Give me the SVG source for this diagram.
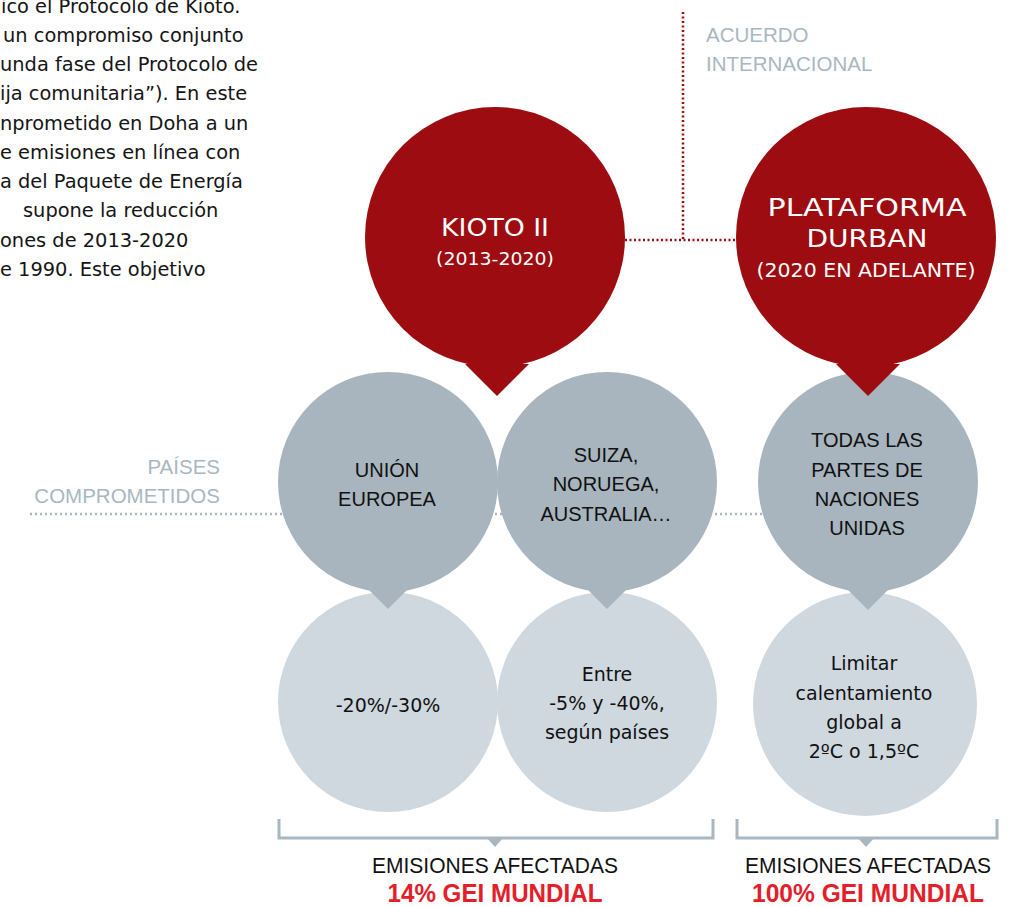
<svg xmlns="http://www.w3.org/2000/svg" width="1016" height="907" viewBox="0 0 1016 907">
<style>
.red{fill:#9c0c11}
.grey{fill:#a8b5be}
.light{fill:#cfd8df}
.para{font-family:"DejaVu Sans","Liberation Sans",sans-serif;font-size:19.4px;fill:#151515}
.din{font-family:"DejaVu Sans","Liberation Sans",sans-serif;font-size:19px;fill:#111;text-anchor:middle}
.helv{font-family:"Liberation Sans",Arial,sans-serif;font-size:20px;fill:#111;text-anchor:middle}
.geo{font-family:"DejaVu Sans","Liberation Sans",sans-serif;fill:#fff;text-anchor:middle}
.lbl{font-family:"Liberation Sans",Arial,sans-serif;font-size:20.5px;fill:#a9b7c1}
.emi{font-family:"Liberation Sans",Arial,sans-serif;font-size:22px;fill:#111;text-anchor:middle}
.gei{font-family:"Liberation Sans",Arial,sans-serif;font-size:25px;font-weight:bold;fill:#e3202a;text-anchor:middle}
.rdot{fill:none;stroke:#9c0c11;stroke-width:2.5;stroke-dasharray:2 2.5}
.gdot{fill:none;stroke:#a9b7c1;stroke-width:2.5;stroke-dasharray:2 3}
.brk{fill:none;stroke:#a9b7c1;stroke-width:3}
.brkt{fill:#a9b7c1}
</style>

<g id="paragraph">
<text class="para" x="1" y="13">ico el Protocolo de Kioto.</text>
<text class="para" x="3" y="42">un compromiso conjunto</text>
<text class="para" x="0" y="71">unda fase del Protocolo de</text>
<text class="para" x="0" y="100">ija comunitaria”). En este</text>
<text class="para" x="0" y="130">nprometido en Doha a un</text>
<text class="para" x="0" y="159">e emisiones en línea con</text>
<text class="para" x="0" y="188">a del Paquete de Energía</text>
<text class="para" x="23" y="217">supone la reducción</text>
<text class="para" x="0" y="247">ones de 2013-2020</text>
<text class="para" x="0" y="276">e 1990. Este objetivo</text>
</g>

<g id="labels">
<text class="lbl" x="706" y="42">ACUERDO</text>
<text class="lbl" x="706" y="71">INTERNACIONAL</text>
<text class="lbl" x="220" y="474" text-anchor="end">PAÍSES</text>
<text class="lbl" x="220" y="503" text-anchor="end">COMPROMETIDOS</text>
</g>

<g id="connectors">
<path class="rdot" d="M683,12 V240"/>
<path class="rdot" d="M625,240 H737"/>
<path class="gdot" d="M30,514 H762"/>
</g>

<g id="result-ue">
<circle class="light" cx="388" cy="702" r="110"/>
<text class="din" x="388" y="712">-20%/-30%</text>
</g>
<g id="result-suiza">
<circle class="light" cx="607" cy="702" r="110"/>
<text class="din" x="607" y="681">Entre</text>
<text class="din" x="607" y="710">-5% y -40%,</text>
<text class="din" x="607" y="739">según países</text>
</g>
<g id="result-todas">
<circle class="light" cx="865" cy="704" r="112"/>
<text class="din" x="864" y="670">Limitar</text>
<text class="din" x="864" y="700">calentamiento</text>
<text class="din" x="864" y="729">global a</text>
<text class="din" x="864" y="758">2ºC o 1,5ºC</text>
</g>

<g id="ue">
<circle class="grey" cx="388" cy="482" r="110"/>
<polygon class="grey" points="358,579 418,579 388,609"/>
<text class="helv" x="387" y="477">UNIÓN</text>
<text class="helv" x="387" y="506">EUROPEA</text>
</g>
<g id="suiza">
<circle class="grey" cx="607" cy="482" r="110"/>
<polygon class="grey" points="577,579 637,579 607,609"/>
<text class="helv" x="606" y="462">SUIZA,</text>
<text class="helv" x="606" y="491">NORUEGA,</text>
<text class="helv" x="606" y="521">AUSTRALIA…</text>
</g>
<g id="todas">
<circle class="grey" cx="868" cy="482" r="110"/>
<polygon class="grey" points="838,580 898,580 868,610"/>
<text class="helv" x="867" y="447">TODAS LAS</text>
<text class="helv" x="867" y="477">PARTES DE</text>
<text class="helv" x="867" y="506">NACIONES</text>
<text class="helv" x="867" y="535">UNIDAS</text>
</g>

<g id="kioto">
<circle class="red" cx="495" cy="237" r="130"/>
<polygon class="red" points="465,364 529,364 497,396"/>
<text class="geo" x="495" y="236" font-size="25" textLength="108" lengthAdjust="spacingAndGlyphs">KIOTO II</text>
<text class="geo" x="495" y="265" font-size="18" textLength="118" lengthAdjust="spacingAndGlyphs">(2013-2020)</text>
</g>
<g id="durban">
<circle class="red" cx="866" cy="237" r="130"/>
<polygon class="red" points="836,364 900,364 868,396"/>
<text class="geo" x="867" y="216" font-size="25" textLength="199" lengthAdjust="spacingAndGlyphs">PLATAFORMA</text>
<text class="geo" x="867" y="247" font-size="25" textLength="121" lengthAdjust="spacingAndGlyphs">DURBAN</text>
<text class="geo" x="866" y="277" font-size="19" textLength="219" lengthAdjust="spacingAndGlyphs">(2020 EN ADELANTE)</text>
</g>

<g id="emisiones-kioto">
<path class="brk" d="M279,819 V838 H713 V819"/>
<polygon class="brkt" points="486,837 504,837 495,847"/>
<text class="emi" x="495" y="873" textLength="246" lengthAdjust="spacingAndGlyphs">EMISIONES AFECTADAS</text>
<text class="gei" x="495" y="902" textLength="215" lengthAdjust="spacingAndGlyphs">14% GEI MUNDIAL</text>
</g>
<g id="emisiones-durban">
<path class="brk" d="M737,819 V838 H997 V819"/>
<polygon class="brkt" points="857,837 875,837 866,847"/>
<text class="emi" x="868" y="873" textLength="246" lengthAdjust="spacingAndGlyphs">EMISIONES AFECTADAS</text>
<text class="gei" x="868" y="902" textLength="232" lengthAdjust="spacingAndGlyphs">100% GEI MUNDIAL</text>
</g>
</svg>
